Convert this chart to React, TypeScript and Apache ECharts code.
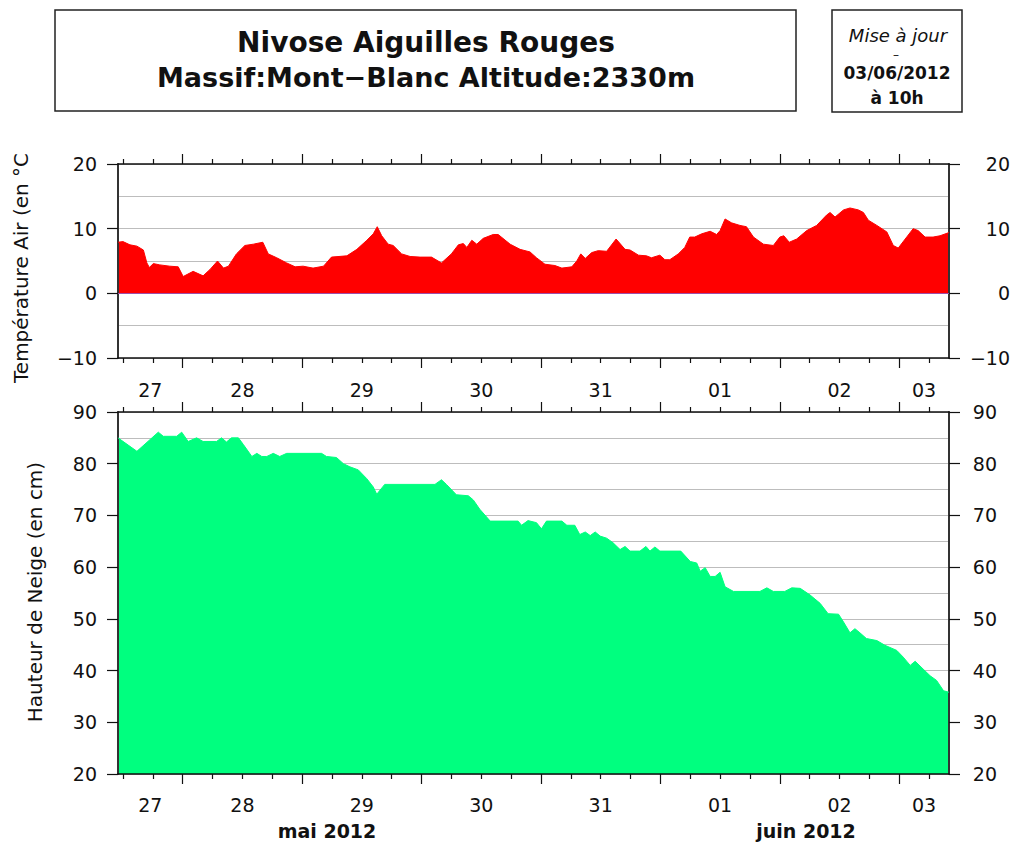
import React, { useEffect, useRef } from "react";
import * as echarts from "echarts";

// Hours counted from 27 May 2012 00:00 (chart spans 27/05 11h -> 03/06 10h)
const tempHours = [11, 12, 13.4, 14.8, 16.1, 16.8, 17.3, 18.1, 19.4, 21.4, 23.1, 24.1, 26.1, 28.1, 29.5, 31.0, 32.2, 33.2, 34.8, 36.5, 38.2, 40.1, 41.2, 42.9, 44.9, 46.6, 48.2, 50.2, 52.3, 53.9, 57.0, 59.0, 61.0, 62.3, 63.1, 64.0, 65.3, 66.3, 68.0, 69.7, 71.7, 74.0, 76.0, 78.0, 79.4, 80.4, 81.1, 82.1, 83.1, 84.4, 86.4, 87.4, 89.8, 91.8, 93.8, 95.1, 96.8, 98.8, 100.2, 102.2, 103.2, 104.0, 104.9, 106.2, 107.5, 109.2, 111.1, 112.9, 113.9, 115.6, 117.2, 118.2, 119.9, 120.9, 121.9, 123.6, 124.9, 125.9, 126.9, 128.3, 130.0, 131.3, 132.0, 133.0, 134.3, 136.0, 137.3, 138.7, 140.7, 142.7, 144.0, 144.8, 145.9, 147.4, 149.4, 151.4, 153.4, 154.1, 155.1, 156.8, 158.1, 159.8, 160.8, 161.8, 163.5, 165.5, 166.8, 167.8, 169.2, 170.8, 171.8, 173.2, 174.8, 176.2, 178];
const tempValues = [7.9, 8.0, 7.5, 7.3, 6.7, 4.7, 4.0, 4.6, 4.4, 4.2, 4.1, 2.6, 3.4, 2.7, 3.7, 5.0, 3.9, 4.2, 6.1, 7.4, 7.6, 7.9, 6.1, 5.5, 4.7, 4.1, 4.2, 3.9, 4.2, 5.6, 5.8, 6.8, 8.2, 9.2, 10.3, 8.9, 7.6, 7.4, 6.1, 5.7, 5.6, 5.6, 4.7, 6.1, 7.5, 7.7, 7.1, 8.2, 7.6, 8.5, 9.1, 9.1, 7.6, 6.8, 6.4, 5.5, 4.5, 4.3, 3.9, 4.1, 5.0, 6.1, 5.4, 6.3, 6.6, 6.5, 8.4, 6.8, 6.7, 5.9, 5.8, 5.5, 5.9, 5.2, 5.2, 6.1, 7.1, 8.7, 8.7, 9.2, 9.6, 9.1, 9.7, 11.5, 10.9, 10.5, 10.3, 8.7, 7.6, 7.4, 8.7, 8.9, 7.9, 8.4, 9.7, 10.5, 12.1, 12.5, 11.8, 12.9, 13.2, 12.9, 12.5, 11.3, 10.5, 9.5, 7.4, 7.0, 8.4, 10.0, 9.7, 8.7, 8.7, 8.9, 9.4];

const snowHours = [11, 14.8, 19.1, 20.1, 22.8, 23.8, 25.1, 26.8, 28.1, 30.8, 31.8, 32.8, 33.8, 35.2, 36.2, 37.9, 38.9, 39.9, 40.9, 42.2, 43.5, 44.9, 51.9, 52.9, 54.9, 56.3, 57.6, 59.3, 61.0, 62.3, 63.0, 64.6, 74.7, 76.0, 77.0, 79.0, 81.4, 82.4, 83.7, 85.8, 91.4, 92.1, 93.4, 95.1, 96.1, 97.1, 100.2, 101.2, 102.8, 103.8, 104.9, 105.9, 106.9, 107.9, 109.2, 110.5, 111.9, 112.9, 113.9, 115.9, 117.1, 117.9, 118.9, 119.9, 124.1, 126.0, 127.3, 128.0, 129.0, 130.0, 131.0, 132.0, 133.0, 134.7, 140.0, 141.4, 142.7, 145.0, 146.4, 148.1, 150.1, 152.1, 153.7, 155.8, 156.8, 158.1, 159.1, 160.1, 161.4, 163.5, 165.1, 167.5, 168.8, 170.2, 171.2, 172.8, 174.2, 175.5, 176.9, 178];
const snowValues = [85, 82.4, 86.1, 85.3, 85.3, 86.1, 84.3, 85, 84.3, 84.3, 85, 84.2, 85, 85, 83.7, 81.4, 82, 81.4, 81.4, 82, 81.4, 82, 82, 81.4, 81.2, 80, 79.4, 78.8, 77.1, 75.5, 74.1, 76, 76, 76.9, 76, 74, 73.8, 73, 71.2, 68.9, 68.9, 68.1, 69.0, 68.6, 67.4, 68.9, 68.9, 68.1, 68.1, 66.3, 66.8, 66.1, 66.8, 66.0, 65.6, 64.7, 63.4, 64.0, 63.1, 63.1, 64.0, 63.1, 63.9, 63.1, 63.1, 61.1, 60.8, 59.2, 59.9, 58.2, 58.2, 59.0, 56.2, 55.3, 55.3, 56.0, 55.3, 55.3, 56.0, 55.9, 54.6, 53.0, 51.0, 50.9, 49.4, 47.3, 48.1, 47.3, 46.2, 45.8, 44.9, 43.9, 42.6, 41.0, 41.8, 40.3, 39.0, 38.1, 36.1, 35.8];

const dayLabels = ["27", "28", "29", "30", "31", "01", "02", "03"];
const dayLabelHours = [17.5, 36, 60, 84, 108, 132, 156, 173];
const dayBoundaryHours = [24, 48, 72, 96, 120, 144, 168];
const sixHourTicks = [12, 18, 30, 36, 42, 54, 60, 66, 78, 84, 90, 102, 108, 114, 126, 132, 138, 150, 156, 162, 174];
const monthLabels = ["mai 2012", "juin 2012"];

const X_MIN = 11;
const X_MAX = 178;
const FONT = "DejaVu Sans";
const AXIS_COLOR = "#111";
const GRID_COLOR = "#bdbdbd";
const RIGHT_LABEL_BOX = 44;

function makeXAxes(gridIndex: number, labelMargin: number) {
  const base = {
    type: "value",
    gridIndex,
    min: X_MIN,
    max: X_MAX,
    z: 3,
    splitLine: { show: false },
    axisLabel: { show: false },
  };
  return [
    {
      ...base,
      position: "bottom",
      axisLine: { show: true, onZero: false, lineStyle: { color: AXIS_COLOR, width: 1.5 } },
      axisTick: { show: true, customValues: dayBoundaryHours, length: 10, lineStyle: { color: AXIS_COLOR, width: 1.2 } },
      axisLabel: {
        show: true,
        customValues: dayLabelHours,
        formatter: (v: number) => {
          const i = dayLabelHours.indexOf(v);
          return i >= 0 ? dayLabels[i] : "";
        },
        margin: labelMargin,
        fontFamily: FONT,
        fontSize: 19,
        color: AXIS_COLOR,
      },
    },
    {
      ...base,
      position: "bottom",
      axisLine: { show: false, onZero: false },
      axisTick: { show: true, customValues: sixHourTicks, length: 5, lineStyle: { color: AXIS_COLOR, width: 1.2 } },
    },
    {
      ...base,
      position: "top",
      axisLine: { show: true, onZero: false, lineStyle: { color: AXIS_COLOR, width: 1.5 } },
      axisTick: { show: true, customValues: dayBoundaryHours, length: 10, lineStyle: { color: AXIS_COLOR, width: 1.2 } },
    },
    {
      ...base,
      position: "top",
      axisLine: { show: false, onZero: false },
      axisTick: { show: true, customValues: sixHourTicks, length: 5, lineStyle: { color: AXIS_COLOR, width: 1.2 } },
    },
  ];
}

function fmtNum(v: number) {
  return v < 0 ? "\u2212" + Math.abs(v) : String(v);
}

function makeYAxes(gridIndex: number, min: number, max: number, rightEdge: number) {
  const base = {
    type: "value",
    gridIndex,
    min,
    max,
    interval: 10,
  };
  const labelBase = { fontFamily: FONT, fontSize: 19, color: AXIS_COLOR };
  return [
    {
      ...base,
      position: "left",
      z: 3,
      axisLine: { show: true, lineStyle: { color: "#333", width: 2 } },
      axisTick: { show: true, length: 11, lineStyle: { color: AXIS_COLOR, width: 1.2 } },
      axisLabel: { ...labelBase, margin: 21, formatter: fmtNum },
      splitLine: { show: false },
    },
    {
      ...base,
      position: "right",
      z: 3,
      axisLine: { show: true, lineStyle: { color: "#333", width: 2 } },
      axisTick: { show: true, length: 11, lineStyle: { color: AXIS_COLOR, width: 1.2 } },
      axisLabel: {
        ...labelBase,
        margin: rightEdge - 949 - RIGHT_LABEL_BOX,
        formatter: (v: number) => "{r|" + fmtNum(v) + "}",
        rich: {
          r: { width: RIGHT_LABEL_BOX, align: "right", fontFamily: FONT, fontSize: 19, color: AXIS_COLOR },
        },
      },
      splitLine: { show: false },
    },
    {
      ...base,
      position: "left",
      z: 0,
      axisLine: { show: false },
      axisTick: { show: false },
      axisLabel: { show: false },
      splitLine: { show: true, lineStyle: { color: GRID_COLOR, width: 1.2 } },
      minorTick: { show: false, splitNumber: 2 },
      minorSplitLine: { show: true, lineStyle: { color: GRID_COLOR, width: 1.2 } },
    },
  ];
}

function txt(x: number, y: number, text: string, font: string, extra: any = {}) {
  return {
    type: "text",
    x,
    y,
    z: 10,
    ...extra,
    style: {
      text,
      font,
      fill: "#111",
      align: "center",
      verticalAlign: "middle",
      textAlign: "center",
      textVerticalAlign: "middle",
    },
  };
}

export default function App() {
  const ref = useRef<HTMLDivElement>(null);

  useEffect(() => {
    document.body.style.margin = "0";
    if (!ref.current) return;
    const chart = echarts.init(ref.current, undefined, { renderer: "svg" });

    const option: any = {
      animation: false,
      backgroundColor: "#ffffff",
      grid: [
        { left: 118, top: 164, width: 831, height: 194 },
        { left: 118, top: 412, width: 831, height: 362 },
      ],
      xAxis: [...makeXAxes(0, 22), ...makeXAxes(1, 21)],
      yAxis: [...makeYAxes(0, -10, 20, 1010), ...makeYAxes(1, 20, 90, 997)],
      series: [
        {
          type: "line",
          name: "Température Air",
          xAxisIndex: 0,
          yAxisIndex: 0,
          data: tempHours.map((h, i) => [h, tempValues[i]]),
          showSymbol: false,
          symbol: "none",
          lineStyle: { color: "#ff0000", width: 1 },
          itemStyle: { color: "#ff0000" },
          areaStyle: { color: "#ff0000", opacity: 1 },
          markLine: {
            silent: true,
            symbol: ["none", "none"],
            label: { show: false },
            lineStyle: { color: "#9e4fa8", width: 1.2, type: "solid" },
            data: [{ yAxis: 0 }],
          },
        },
        {
          type: "line",
          name: "Hauteur de Neige",
          xAxisIndex: 4,
          yAxisIndex: 3,
          data: snowHours.map((h, i) => [h, snowValues[i]]),
          showSymbol: false,
          symbol: "none",
          lineStyle: { color: "#00ff7f", width: 1 },
          itemStyle: { color: "#00ff7f" },
          areaStyle: { color: "#00ff7f", opacity: 1, origin: "start" },
        },
      ],
      graphic: [
        {
          type: "rect",
          z: 10,
          shape: { x: 55, y: 10, width: 741, height: 101 },
          style: { fill: "#fff", stroke: "#222", lineWidth: 1.5 },
        },
        txt(426, 42, "Nivose Aiguilles Rouges", `bold 28px "${FONT}"`),
        txt(426, 77, "Massif:Mont\u2212Blanc Altitude:2330m", `bold 27px "${FONT}"`),
        {
          type: "rect",
          z: 10,
          shape: { x: 832, y: 10, width: 130, height: 102 },
          style: { fill: "#fff", stroke: "#222", lineWidth: 1.5 },
        },
        txt(898, 35, "Mise à jour", `italic 18px "${FONT}"`),
        txt(896, 55, "–", `12px "${FONT}"`),
        txt(897, 73, "03/06/2012", `bold 17px "${FONT}"`),
        txt(897, 98, "à 10h", `bold 17px "${FONT}"`),
        txt(21, 268, "Température Air (en °C", `20px "${FONT}"`, { rotation: Math.PI / 2 }),
        txt(35, 592, "Hauteur de Neige (en cm)", `20px "${FONT}"`, { rotation: Math.PI / 2 }),
        txt(327, 831, monthLabels[0], `bold 19px "${FONT}"`),
        txt(806, 831, monthLabels[1], `bold 19px "${FONT}"`),
      ],
    };

    chart.setOption(option);
    return () => {
      chart.dispose();
    };
  }, []);

  return <div ref={ref} style={{ width: 1018, height: 845 }} />;
}
